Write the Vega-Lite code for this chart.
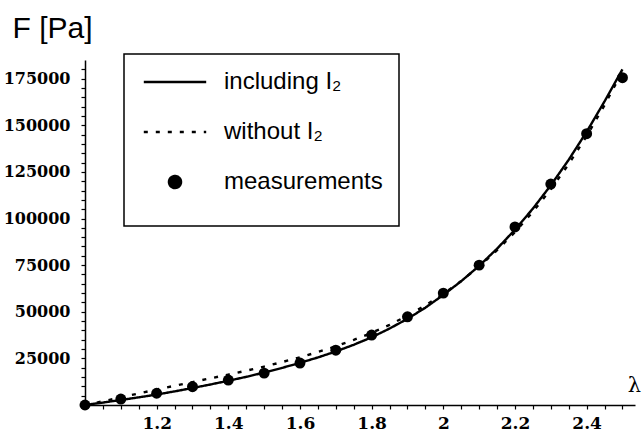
{
  "$schema": "https://vega.github.io/schema/vega-lite/v6.json",
  "width": 550,
  "height": 345,
  "autosize": {"type": "none"},
  "padding": {"left": 85, "top": 60, "right": 9, "bottom": 27},
  "background": "white",
  "datasets": {
    "curves": [
      {"lambda": 1.0, "F": 0, "series": "including I₂"},
      {"lambda": 1.05, "F": 1300, "series": "including I₂"},
      {"lambda": 1.1, "F": 2700, "series": "including I₂"},
      {"lambda": 1.15, "F": 4100, "series": "including I₂"},
      {"lambda": 1.2, "F": 5600, "series": "including I₂"},
      {"lambda": 1.25, "F": 7300, "series": "including I₂"},
      {"lambda": 1.3, "F": 9100, "series": "including I₂"},
      {"lambda": 1.35, "F": 11000, "series": "including I₂"},
      {"lambda": 1.4, "F": 13000, "series": "including I₂"},
      {"lambda": 1.45, "F": 15100, "series": "including I₂"},
      {"lambda": 1.5, "F": 17400, "series": "including I₂"},
      {"lambda": 1.55, "F": 19900, "series": "including I₂"},
      {"lambda": 1.6, "F": 22600, "series": "including I₂"},
      {"lambda": 1.65, "F": 25500, "series": "including I₂"},
      {"lambda": 1.7, "F": 28700, "series": "including I₂"},
      {"lambda": 1.75, "F": 32300, "series": "including I₂"},
      {"lambda": 1.8, "F": 36300, "series": "including I₂"},
      {"lambda": 1.85, "F": 41000, "series": "including I₂"},
      {"lambda": 1.9, "F": 46200, "series": "including I₂"},
      {"lambda": 1.95, "F": 52200, "series": "including I₂"},
      {"lambda": 2.0, "F": 59000, "series": "including I₂"},
      {"lambda": 2.05, "F": 66400, "series": "including I₂"},
      {"lambda": 2.1, "F": 74600, "series": "including I₂"},
      {"lambda": 2.15, "F": 83800, "series": "including I₂"},
      {"lambda": 2.2, "F": 94000, "series": "including I₂"},
      {"lambda": 2.25, "F": 105300, "series": "including I₂"},
      {"lambda": 2.3, "F": 117800, "series": "including I₂"},
      {"lambda": 2.35, "F": 131500, "series": "including I₂"},
      {"lambda": 2.4, "F": 146500, "series": "including I₂"},
      {"lambda": 2.45, "F": 162800, "series": "including I₂"},
      {"lambda": 2.5, "F": 180000, "series": "including I₂"},
      {"lambda": 1.0, "F": 0, "series": "without I₂"},
      {"lambda": 1.05, "F": 2000, "series": "without I₂"},
      {"lambda": 1.1, "F": 4100, "series": "without I₂"},
      {"lambda": 1.15, "F": 6200, "series": "without I₂"},
      {"lambda": 1.2, "F": 8300, "series": "without I₂"},
      {"lambda": 1.25, "F": 10300, "series": "without I₂"},
      {"lambda": 1.3, "F": 12300, "series": "without I₂"},
      {"lambda": 1.35, "F": 14300, "series": "without I₂"},
      {"lambda": 1.4, "F": 16300, "series": "without I₂"},
      {"lambda": 1.45, "F": 18400, "series": "without I₂"},
      {"lambda": 1.5, "F": 20600, "series": "without I₂"},
      {"lambda": 1.55, "F": 23000, "series": "without I₂"},
      {"lambda": 1.6, "F": 25600, "series": "without I₂"},
      {"lambda": 1.65, "F": 28400, "series": "without I₂"},
      {"lambda": 1.7, "F": 31500, "series": "without I₂"},
      {"lambda": 1.75, "F": 34900, "series": "without I₂"},
      {"lambda": 1.8, "F": 38700, "series": "without I₂"},
      {"lambda": 1.85, "F": 43000, "series": "without I₂"},
      {"lambda": 1.9, "F": 47900, "series": "without I₂"},
      {"lambda": 1.95, "F": 53400, "series": "without I₂"},
      {"lambda": 2.0, "F": 59600, "series": "without I₂"},
      {"lambda": 2.05, "F": 66500, "series": "without I₂"},
      {"lambda": 2.1, "F": 74300, "series": "without I₂"},
      {"lambda": 2.15, "F": 83000, "series": "without I₂"},
      {"lambda": 2.2, "F": 92700, "series": "without I₂"},
      {"lambda": 2.25, "F": 103600, "series": "without I₂"},
      {"lambda": 2.3, "F": 115700, "series": "without I₂"},
      {"lambda": 2.35, "F": 129200, "series": "without I₂"},
      {"lambda": 2.4, "F": 144200, "series": "without I₂"},
      {"lambda": 2.45, "F": 160800, "series": "without I₂"},
      {"lambda": 2.5, "F": 179000, "series": "without I₂"}
    ],
    "measured": [
      {"lambda": 1.0, "F": 0, "series": "measurements"},
      {"lambda": 1.1, "F": 3200, "series": "measurements"},
      {"lambda": 1.2, "F": 6300, "series": "measurements"},
      {"lambda": 1.3, "F": 9800, "series": "measurements"},
      {"lambda": 1.4, "F": 13400, "series": "measurements"},
      {"lambda": 1.5, "F": 17100, "series": "measurements"},
      {"lambda": 1.6, "F": 22500, "series": "measurements"},
      {"lambda": 1.7, "F": 29400, "series": "measurements"},
      {"lambda": 1.8, "F": 37500, "series": "measurements"},
      {"lambda": 1.9, "F": 47300, "series": "measurements"},
      {"lambda": 2.0, "F": 60000, "series": "measurements"},
      {"lambda": 2.1, "F": 75000, "series": "measurements"},
      {"lambda": 2.2, "F": 95500, "series": "measurements"},
      {"lambda": 2.3, "F": 118500, "series": "measurements"},
      {"lambda": 2.4, "F": 145500, "series": "measurements"},
      {"lambda": 2.5, "F": 175500, "series": "measurements"}
    ]
  },
  "encoding": {
    "x": {
      "field": "lambda",
      "type": "quantitative",
      "scale": {"domain": [1, 2.535], "nice": false, "zero": false},
      "axis": {
        "title": "λ",
        "titleFont": "DejaVu Serif",
        "titleFontSize": 21,
        "titleFontWeight": "normal",
        "titleAngle": 0,
        "titleX": 549,
        "titleY": -14,
        "titleAlign": "center",
        "titleBaseline": "alphabetic",
        "values": [1.05, 1.1, 1.15, 1.2, 1.25, 1.3, 1.35, 1.4, 1.45, 1.5, 1.55, 1.6, 1.65, 1.7, 1.75, 1.8, 1.85, 1.9, 1.95, 2.0, 2.05, 2.1, 2.15, 2.2, 2.25, 2.3, 2.35, 2.4, 2.45, 2.5],
        "labelExpr": "abs(datum.value*5 - round(datum.value*5)) < 0.001 ? format(datum.value, '~g') : ''",
        "labelPadding": 6
      }
    },
    "y": {
      "field": "F",
      "type": "quantitative",
      "scale": {"domain": [0, 185000], "nice": false},
      "axis": {
        "title": "F [Pa]",
        "titleFont": "Liberation Sans",
        "titleFontSize": 30,
        "titleFontWeight": "normal",
        "titleAngle": 0,
        "titleX": -73,
        "titleY": -23,
        "titleAlign": "left",
        "titleBaseline": "alphabetic",
        "values": [5000, 10000, 15000, 20000, 25000, 30000, 35000, 40000, 45000, 50000, 55000, 60000, 65000, 70000, 75000, 80000, 85000, 90000, 95000, 100000, 105000, 110000, 115000, 120000, 125000, 130000, 135000, 140000, 145000, 150000, 155000, 160000, 165000, 170000, 175000, 180000],
        "labelExpr": "datum.value % 25000 == 0 ? format(datum.value, 'd') : ''",
        "labelFontSize": 16,
        "labelPadding": 11
      }
    }
  },
  "layer": [
    {
      "data": {"name": "curves"},
      "mark": {"type": "line", "color": "black", "strokeWidth": 2.4},
      "encoding": {
        "detail": {"field": "series"},
        "strokeDash": {
          "field": "series",
          "type": "nominal",
          "scale": {"domain": ["including I₂", "without I₂", "measurements"], "range": [[1, 0], [4, 8], [1, 0]]},
          "legend": {
            "title": "\u200b",
            "labelExpr": "datum.label + '   '",
            "encode": {
              "symbols": {
                "update": {
                  "stroke": {"value": "black"},
                  "strokeWidth": {"value": 2.5},
                  "fill": {"value": "black"},
                  "opacity": {"value": 1}
                }
              }
            }
          }
        }
      }
    },
    {
      "data": {"name": "measured"},
      "mark": {"type": "point", "filled": true, "color": "black", "opacity": 1, "size": 120},
      "encoding": {
        "shape": {
          "field": "series",
          "type": "nominal",
          "scale": {"domain": ["including I₂", "without I₂", "measurements"], "range": ["M-5.2,0H5.2", "M-5.2,0H5.2", "circle"]},
          "legend": {
            "title": "\u200b",
            "labelExpr": "datum.label + '   '",
            "encode": {
              "symbols": {
                "update": {
                  "stroke": {"value": "black"},
                  "strokeWidth": {"value": 2.5},
                  "fill": {"value": "black"},
                  "opacity": {"value": 1}
                }
              }
            }
          }
        }
      }
    }
  ],
  "config": {
    "view": {"stroke": null},
    "legend": {
      "titleOrient": "bottom",
      "titleFontSize": 12,
      "titlePadding": 5,
      "orient": "none",
      "legendX": 39,
      "legendY": -6,
      "padding": 16,
      "rowPadding": 26,
      "labelFont": "Liberation Sans",
      "labelFontSize": 24,
      "labelColor": "black",
      "labelLimit": 300,
      "labelOffset": 37,
      "symbolOffset": 23,
      "symbolSize": 144,
      "symbolStrokeWidth": 2.5,
      "symbolStrokeColor": "black",
      "symbolFillColor": "black",
      "strokeColor": "black",
      "strokeWidth": 1.5,
      "fillColor": "white"
    },
    "axis": {
      "grid": false,
      "domainColor": "black",
      "domainWidth": 1.5,
      "tickColor": "black",
      "tickWidth": 1.2,
      "tickSize": 4,
      "labelFont": "DejaVu Serif",
      "labelFontSize": 17,
      "labelFontWeight": "bold",
      "labelColor": "black",
      "titleColor": "black"
    }
  }
}
